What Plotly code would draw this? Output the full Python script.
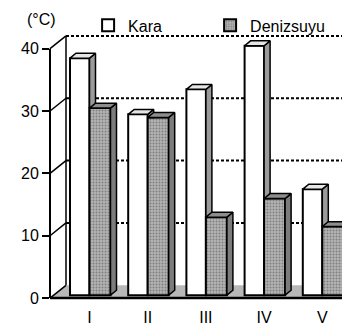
import plotly.graph_objects as go

# ---- data ----
categories = ["I", "II", "III", "IV", "V"]
kara = [38, 29, 33, 40, 17]
denizsuyu = [30, 28.5, 12.5, 15.5, 11]
y_ticks = [0, 10, 20, 30, 40]

# ---- geometry (pixel-derived constants, axis units) ----
PXX = 58.2          # px per category unit
PXY = 6.35          # px per degree
XMIN, XMAX = -39.5 / PXX, -39.5 / PXX + 300 / PXX
YMIN, YMAX = -4 / PXY, 40 + 18 / PXY
B0 = 3 / PXY                     # bar base above floor front edge
KW = 19.5 / PXX                  # kara bar width
DW = 21 / PXX                    # deniz bar width
DX, DY = 6 / PXX, 5 / PXY        # bar depth offset
WX, WY = 16 / 300, 13 / PXY      # wall depth (x in paper, y in data)

def yp(v):
    return (v - YMIN) / (YMAX - YMIN)

xs = list(range(len(categories)))
fig = go.Figure()

fig.add_trace(go.Bar(
    x=xs, y=kara, base=B0, offset=-KW, width=KW, name="Kara",
    marker=dict(color="white", line=dict(color="black", width=2)),
))
fig.add_trace(go.Bar(
    x=xs, y=denizsuyu, base=B0, offset=0, width=DW, name="Denizsuyu",
    marker=dict(color="#a8a8a8", line=dict(color="black", width=2),
                pattern=dict(shape=".", fgcolor="#4a4a4a", bgcolor="#b4b4b4",
                             size=3, solidity=0.35)),
))

def poly_trace(polys, fill, line_col="black"):
    px, py = [], []
    for p in polys:
        for (a, b) in p + [p[0]]:
            px.append(a); py.append(b)
        px.append(None); py.append(None)
    return go.Scatter(x=px, y=py, mode="lines", fill="toself", fillcolor=fill,
                      line=dict(color=line_col, width=1.5), showlegend=False,
                      hoverinfo="skip", cliponaxis=False)

k_top, k_side, d_top, d_side = [], [], [], []
for i, (vk, vd) in enumerate(zip(kara, denizsuyu)):
    tk = B0 + vk
    td = B0 + vd
    k_top.append([(i - KW, tk), (i - KW + DX, tk + DY), (i + DX, tk + DY), (i, tk)])
    lo = max(td, B0)
    if lo < tk:
        k_side.append([(i, lo), (i + DX, lo), (i + DX, tk + DY), (i, tk)])
    d_top.append([(i, td), (i + DX, td + DY), (i + DW + DX, td + DY), (i + DW, td)])
    d_side.append([(i + DW, B0), (i + DW + DX, B0 + DY), (i + DW + DX, td + DY), (i + DW, td)])

fig.add_trace(poly_trace(k_side, "#9a9a9a"))
fig.add_trace(poly_trace(k_top, "#e6e6e6"))
fig.add_trace(poly_trace(d_side, "#7c7c7c"))
fig.add_trace(poly_trace(d_top, "#8e8e8e"))

shapes = []
# floor
shapes.append(dict(type="path", xref="paper", yref="paper", layer="below",
                   path=f"M 0,{yp(0)} L 1,{yp(0)} L 1,{yp(WY)} L {WX},{yp(WY)} Z",
                   fillcolor="#b8b8b8", line=dict(width=0)))
# back gridlines
for v in y_ticks[1:]:
    shapes.append(dict(type="line", xref="paper", yref="paper", layer="below",
                       x0=WX, x1=1, y0=yp(v + WY), y1=yp(v + WY),
                       line=dict(color="black", width=2, dash="3px,2px")))
# back wall left edge
shapes.append(dict(type="line", xref="paper", yref="paper", layer="below",
                   x0=WX, x1=WX, y0=yp(WY), y1=yp(40 + WY),
                   line=dict(color="black", width=1.5)))
# side connectors
for v in y_ticks:
    shapes.append(dict(type="line", xref="paper", yref="paper", layer="below",
                       x0=0, x1=WX, y0=yp(v), y1=yp(v + WY),
                       line=dict(color="black", width=1.5)))
# front axis and floor edge
shapes.append(dict(type="line", xref="paper", yref="paper",
                   x0=0, x1=0, y0=yp(0), y1=yp(40),
                   line=dict(color="black", width=2)))
shapes.append(dict(type="line", xref="paper", yref="paper",
                   x0=0, x1=1, y0=yp(0), y1=yp(0),
                   line=dict(color="black", width=2.5)))

# the page body has an 8px default margin; size/margins compensate for it
fig.update_layout(
    width=342, height=323,
    margin=dict(l=42, r=0, t=18, b=29),
    paper_bgcolor="white", plot_bgcolor="white",
    font=dict(family="Liberation Sans, Arial, sans-serif", size=16, color="black"),
    shapes=shapes,
    barmode="overlay",
    showlegend=True,
    legend=dict(orientation="h", x=0.127, y=1 + 23 / 276, xanchor="left", yanchor="top",
                font=dict(size=16), entrywidth=77, entrywidthmode="pixels",
                bgcolor="rgba(0,0,0,0)", traceorder="normal"),
    annotations=[dict(text="(°C)", xref="paper", yref="paper", x=-0.027, y=1 + 12 / 276,
                      showarrow=False, font=dict(size=16), xanchor="center", yanchor="middle")],
    xaxis=dict(range=[XMIN, XMAX], tickvals=xs, ticktext=categories, showgrid=False,
               zeroline=False, showline=False, ticks="", fixedrange=True,
               ticklabelstandoff=4),
    yaxis=dict(range=[YMIN, YMAX], tickvals=y_ticks, showgrid=False, zeroline=False,
               showline=False, ticks="outside", ticklen=7, tickwidth=2, tickcolor="black",
               fixedrange=True),
)

fig.write_html("out.html")
